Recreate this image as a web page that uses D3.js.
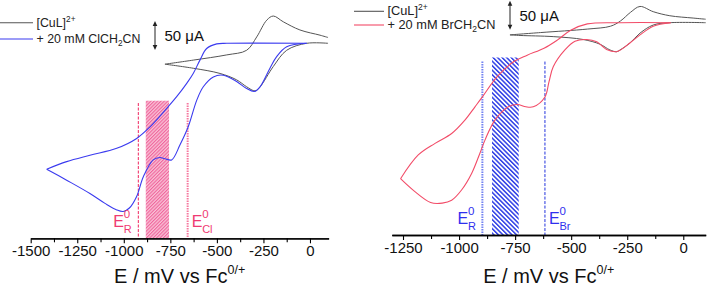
<!DOCTYPE html>
<html>
<head>
<meta charset="utf-8">
<script src="https://cdn.jsdelivr.net/npm/d3@7"></script>
<style>
  body { margin: 0; background: #fff; }
  svg { font-family: "Liberation Sans", Arial, sans-serif; }
</style>
</head>
<body>
<svg id="chart" width="708" height="287"></svg>
<script>
//----------------------------
// two cyclic voltammograms, E (mV vs Fc) / I (uA)
//----------------------------

// tick labels
const leftTicks = [-1500, -1250, -1000, -750, -500, -250, 0];
const leftMinor = [-1375, -1125, -875, -625, -375, -125];
const rightTicks = [-1250, -1000, -750, -500, -250, 0];
const rightMinor = [-1125, -875, -625, -375, -125];

// left panel: [CuL]2+ alone  [E, I]
const cuLeftAnodic = [[-779,-36],[-627,-29],[-447,-20],[-340,-12],[-286,11],[-232,40],[-197,47],[-143,37],[-54,23],[54,14],[97,10]];
const cuLeftCathodic = [[97,0],[-18,0],[-125,-12],[-197,-40],[-268,-75],[-295,-82],[-340,-75],[-394,-63],[-483,-52],[-627,-43],[-779,-36]];

// left panel: + 20 mM ClCH2CN
const clCathodic = [[-18,0],[-125,-6],[-179,-23],[-215,-43],[-268,-75],[-299,-83],[-340,-78],[-394,-66],[-466,-55],[-519,-58],[-573,-75],[-608,-98],[-654,-144],[-698,-175],[-743,-201],[-779,-199],[-806,-197],[-842,-201],[-895,-230],[-931,-264],[-970,-284],[-1003,-290],[-1040,-287],[-1101,-276],[-1182,-259],[-1307,-236],[-1414,-217]];
const clAnodic = [[-1414,-217],[-1307,-204],[-1182,-193],[-1038,-181],[-931,-164],[-859,-144],[-761,-109],[-716,-92],[-662,-69],[-627,-52],[-591,-29],[-555,-9],[-501,-1],[-447,0],[-18,0]];

// right panel: [CuL]2+ alone
const cuRightAnodic = [[-773,-21],[-636,-17],[-428,-11],[-324,-6],[-280,3],[-235,18],[-193,28],[-134,19],[-60,12],[44,8],[100,6]];
const cuRightCathodic = [[100,0],[-60,0],[-134,-4],[-193,-18],[-238,-35],[-282,-47],[-297,-50],[-327,-47],[-372,-37],[-446,-29],[-580,-24],[-728,-22],[-773,-21]];

// right panel: + 20 mM BrCH2CN
const brCathodic = [[-56,0],[-134,-6],[-193,-21],[-238,-35],[-297,-50],[-342,-46],[-386,-33],[-431,-29],[-483,-32],[-528,-47],[-580,-76],[-599,-102],[-617,-128],[-669,-145],[-702,-145],[-740,-141],[-780,-145],[-840,-168],[-884,-202],[-907,-225],[-944,-260],[-988,-288],[-1033,-306],[-1075,-311],[-1127,-310],[-1201,-290],[-1261,-269]];
const brAnodic = [[-1261,-269],[-1182,-228],[-1107,-208],[-1033,-191],[-974,-168],[-929,-145],[-896,-128],[-830,-93],[-755,-67],[-696,-56],[-621,-44],[-562,-30],[-502,-13],[-428,-2],[-279,0],[-56,0]];

// standard potentials and hatched ranges (mV)
const leftE0 = { R: -922, X: -657, band: [-882, -757], top: -103, bandTop: -99 };
const rightE0 = { R: -896, X: -617, band: [-853, -734], top: -67, bandTop: -60 };

const svg = d3.select("#chart");
const defs = svg.append("defs");

function hatch(id, bg, color, angle, size, width) {
  const p = defs.append("pattern")
    .attr("id", id)
    .attr("patternUnits", "userSpaceOnUse")
    .attr("width", size)
    .attr("height", size)
    .attr("patternTransform", `rotate(${angle})`);
  p.append("rect").attr("width", size).attr("height", size).attr("fill", bg);
  p.append("rect").attr("width", width).attr("height", size).attr("fill", color);
}
hatch("pinkHatch", "#f9c2d6", "#f0649c", 45, 2.4, 1.1);
hatch("blueHatch", "#ffffff", "#2f3fe6", -45, 3.2, 1.5);

const line = (x, y) => d3.line().x((d) => x(d[0])).y((d) => y(d[1])).curve(d3.curveCatmullRom.alpha(0.5));

function drawPanel(cfg) {
  const { x, y } = cfg;
  const g = svg.append("g");

  // hatched band + E0 lines
  g.append("rect")
    .attr("x", x(cfg.e0.band[0]))
    .attr("y", y(cfg.e0.bandTop))
    .attr("width", x(cfg.e0.band[1]) - x(cfg.e0.band[0]))
    .attr("height", cfg.axisY - y(cfg.e0.bandTop))
    .attr("fill", `url(#${cfg.hatchId})`);

  [[cfg.e0.R, cfg.lineR], [cfg.e0.X, cfg.lineX]].forEach(([e, st]) => {
    g.append("line")
      .attr("x1", x(e)).attr("x2", x(e))
      .attr("y1", y(cfg.e0.top)).attr("y2", cfg.axisY)
      .attr("stroke", st.color)
      .attr("stroke-width", st.width)
      .attr("stroke-dasharray", st.dash);
  });

  // curves
  cfg.curves.forEach((c) => {
    g.append("path")
      .attr("d", line(x, y)(c.data))
      .attr("fill", "none")
      .attr("stroke", c.color)
      .attr("stroke-width", c.width);
  });

  // axis
  const minorAxis = g.append("g")
    .attr("transform", `translate(0,${cfg.axisY})`)
    .call(d3.axisBottom(x).tickValues(cfg.minors).tickSize(4).tickSizeOuter(0).tickFormat(""));
  const majorAxis = g.append("g")
    .attr("transform", `translate(0,${cfg.axisY})`)
    .call(d3.axisBottom(x).tickValues(cfg.majors).tickSize(5).tickSizeOuter(0).tickPadding(2.5).tickFormat((d) => String(d)));
  [minorAxis, majorAxis].forEach((a) => {
    a.select(".domain").attr("stroke", "#000").attr("stroke-width", 1.3);
    a.selectAll(".tick line").attr("stroke", "#000").attr("stroke-width", 1.1);
  });
  majorAxis.selectAll(".tick text")
    .attr("font-size", 15)
    .attr("font-family", "Liberation Sans, Arial, sans-serif")
    .attr("fill", "#111");

  // axis title
  const cx = (x.range()[0] + x.range()[1]) / 2;
  const t = g.append("text")
    .attr("x", cx).attr("y", 282.5)
    .attr("text-anchor", "middle")
    .attr("font-size", 20)
    .attr("fill", "#111")
    .text("E / mV vs Fc");
  t.append("tspan").attr("font-size", 12.5).attr("dy", -8.5).text("0/+");

  // E0 labels
  const lab = (xPos, sub) => {
    g.append("text")
      .attr("x", xPos).attr("y", cfg.labelY)
      .attr("font-size", 16)
      .attr("fill", cfg.labelColor)
      .text("E");
    const ex = xPos + 10.5;
    g.append("text").attr("x", ex).attr("y", cfg.labelY - 9.5)
      .attr("font-size", 11.5).attr("fill", cfg.labelColor).text("0");
    g.append("text").attr("x", ex).attr("y", cfg.labelY + 6)
      .attr("font-size", 11).attr("fill", cfg.labelColor).text(sub);
  };
  lab(x(cfg.e0.R) - 25, "R");
  lab(x(cfg.e0.X) + 4, cfg.subX);

  // 50 uA scale bar
  const ax = cfg.barX;
  const y1 = y(cfg.barTop), y2 = y(cfg.barTop - 50);
  g.append("line").attr("x1", ax).attr("x2", ax).attr("y1", y1 + 2).attr("y2", y2 - 2)
    .attr("stroke", "#222").attr("stroke-width", 1);
  g.append("path").attr("d", `M${ax},${y1} L${ax - 2.3},${y1 + 5} L${ax + 2.3},${y1 + 5} Z`).attr("fill", "#222");
  g.append("path").attr("d", `M${ax},${y2} L${ax - 2.3},${y2 - 5} L${ax + 2.3},${y2 - 5} Z`).attr("fill", "#222");
  g.append("text")
    .attr("x", ax + 9.5).attr("y", (y1 + y2) / 2 + 5.5)
    .attr("font-size", 15).attr("fill", "#111")
    .text("50 \u03BCA");

  // legend
  const texts = cfg.legend.map((l) => {
    g.append("line")
      .attr("x1", cfg.legX0).attr("x2", cfg.legX1)
      .attr("y1", l.y).attr("y2", l.y)
      .attr("stroke", l.color).attr("stroke-width", 1.1);
    const tx = g.append("text")
      .attr("x", cfg.legX1 + 3.5).attr("y", l.y + 4)
      .attr("font-size", 12).attr("fill", "#222");
    l.parts.forEach((p) => {
      const s = tx.append("tspan").text(p.t);
      if (p.sup) s.attr("font-size", 8).attr("dy", -5);
      if (p.sub) s.attr("font-size", 8).attr("dy", 3);
      if (p.back) s.attr("dy", p.back);
    });
    return tx;
  });
  // scale legend font so the long entry spans the same width as in the figure
  const w = texts[1].node().getComputedTextLength();
  const k = w > 0 ? cfg.legWidth / w : 1;
  texts.forEach((tx) => {
    tx.attr("font-size", 12 * k);
    tx.selectAll("tspan").each(function () {
      const s = d3.select(this);
      if (s.attr("font-size")) s.attr("font-size", 8 * k);
    });
  });
}

drawPanel({
  x: d3.scaleLinear().domain([-1500, 100]).range([30.7, 328.6]),
  y: d3.scaleLinear().domain([0, 50]).range([43.3, 14.3]),
  axisY: 238.3,
  majors: leftTicks,
  minors: leftMinor,
  e0: leftE0,
  hatchId: "pinkHatch",
  lineR: { color: "#f0245e", width: 1, dash: "3,1.5" },
  lineX: { color: "#f5789f", width: 2, dash: "1.5,1" },
  labelColor: "#ef3a72",
  labelY: 227,
  subX: "Cl",
  curves: [
    { data: cuLeftAnodic, color: "#555", width: 1 },
    { data: cuLeftCathodic, color: "#555", width: 1 },
    { data: clAnodic, color: "#3b3bef", width: 1.1 },
    { data: clCathodic, color: "#3b3bef", width: 1.1 },
  ],
  barX: 155,
  barTop: 38.4,
  legX0: 0,
  legX1: 33,
  legWidth: 104,
  legend: [
    { y: 22.7, color: "#555", parts: [{ t: "[CuL]" }, { t: "2+", sup: true }] },
    { y: 39, color: "#3b3bef", parts: [{ t: "+ 20 mM ClCH" }, { t: "2", sub: true }, { t: "CN", back: -3 }] },
  ],
});

drawPanel({
  x: d3.scaleLinear().domain([-1300, 100]).range([391.8, 705.7]),
  y: d3.scaleLinear().domain([0, 50]).range([22.7, -6.3]),
  axisY: 235,
  majors: rightTicks,
  minors: rightMinor,
  e0: rightE0,
  hatchId: "blueHatch",
  lineR: { color: "#7383f2", width: 2, dash: "1.5,1" },
  lineX: { color: "#2233dd", width: 1, dash: "3,1.5" },
  labelColor: "#2f2fee",
  labelY: 224,
  subX: "Br",
  curves: [
    { data: cuRightAnodic, color: "#555", width: 1 },
    { data: cuRightCathodic, color: "#555", width: 1 },
    { data: brAnodic, color: "#f24c68", width: 1.1 },
    { data: brCathodic, color: "#f24c68", width: 1.1 },
  ],
  barX: 510,
  barTop: 37.9,
  legX0: 354,
  legX1: 384,
  legWidth: 108,
  legend: [
    { y: 11.3, color: "#555", parts: [{ t: "[CuL]" }, { t: "2+", sup: true }] },
    { y: 25, color: "#f24c68", parts: [{ t: "+ 20 mM BrCH" }, { t: "2", sub: true }, { t: "CN", back: -3 }] },
  ],
});
</script>
</body>
</html>
